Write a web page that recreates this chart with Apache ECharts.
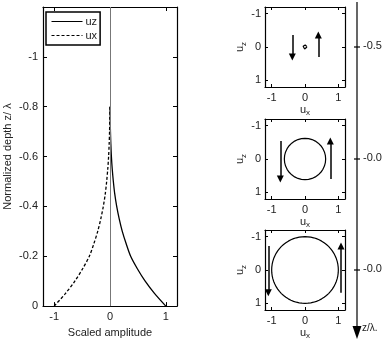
<!DOCTYPE html>
<html>
<head>
<meta charset="utf-8">
<script src="https://cdn.jsdelivr.net/npm/echarts@6/dist/echarts.min.js"></script>
<style>
  html, body { margin: 0; padding: 0; background: #fff; }
  #chart { width: 382px; height: 343px; }
</style>
</head>
<body>
<div id="chart"></div>
<script>
// Normalized depth z/λ and the scaled particle-velocity amplitudes at each depth
const depth = [0, -0.05, -0.1, -0.15, -0.2, -0.25, -0.3, -0.35, -0.4, -0.45, -0.5, -0.55, -0.6, -0.65, -0.7, -0.75, -0.8];
const uzAmp = [1.0, 0.80, 0.63, 0.49, 0.37, 0.29, 0.22, 0.165, 0.12, 0.085, 0.06, 0.04, 0.025, 0.015, 0.008, 0.004, 0.0];
const uxAmp = [-1.0, -0.80, -0.63, -0.49, -0.37, -0.29, -0.22, -0.165, -0.12, -0.085, -0.06, -0.04, -0.025, -0.015, -0.008, -0.004, 0.0];

// Tick values
const ampTicks = [-1, 0, 1];
const depthTicks = [-1, -0.8, -0.6, -0.4, -0.2, 0];

// Particle orbits at three depths (top to bottom panel)
const orbitRadius = [0.06, 0.62, 1.0];
const arrowDownX = [-0.38, -0.74, -1.1];
const arrowUpX = [0.4, 0.76, 1.08];
const arrowTop = [-0.36, -0.54, -0.72];
const arrowBottom = [0.3, 0.6, 0.68];
const depthLabels = ['-0.5', '-0.0', '-0.0'];

const FONT = 'Liberation Sans, Arial, sans-serif';
const TXT = '#222';

// layout of the orbit panels
const panelLeft = 265, panelSize = 80;
const panelTops = [7, 119, 230];

const chart = echarts.init(document.getElementById('chart'), null, { renderer: 'canvas' });

const grids = [{ left: 43, top: 7, width: 134, height: 303 }];
panelTops.forEach(t => grids.push({ left: panelLeft, top: t, width: panelSize, height: panelSize }));

const axisLine = { onZero: false, lineStyle: { color: '#000', width: 1.2 } };
const subRich = {
  u: { fontSize: 11, fontFamily: FONT, color: TXT },
  s: { fontSize: 8, fontFamily: FONT, color: TXT, padding: [7, 0, 0, 0] }
};

const xAxes = [], yAxes = [];

// main profile panel
xAxes.push({
  gridIndex: 0, type: 'value', min: -1.2, max: 1.2, position: 'bottom',
  axisLine, splitLine: { show: false },
  axisTick: { inside: true, length: 4, customValues: ampTicks, lineStyle: { color: '#000' } },
  axisLabel: { customValues: ampTicks, margin: 5, color: TXT, fontSize: 11, fontFamily: FONT },
  name: 'Scaled amplitude', nameLocation: 'middle', nameGap: 17,
  nameTextStyle: { color: TXT, fontSize: 11, fontFamily: FONT }
});
xAxes.push({
  gridIndex: 0, type: 'value', min: -1.2, max: 1.2, position: 'top',
  axisLine, splitLine: { show: false },
  axisTick: { inside: true, length: 4, customValues: ampTicks, lineStyle: { color: '#000' } },
  axisLabel: { show: false }
});
yAxes.push({
  gridIndex: 0, type: 'value', min: -1.2, max: 0, inverse: true, position: 'left',
  axisLine, splitLine: { show: false },
  axisTick: { inside: true, length: 4, customValues: depthTicks, lineStyle: { color: '#000' } },
  axisLabel: { customValues: depthTicks, margin: 5, color: TXT, fontSize: 11, fontFamily: FONT },
  name: 'Normalized depth z/ λ', nameLocation: 'middle', nameGap: 30,
  nameTextStyle: { color: TXT, fontSize: 11, fontFamily: FONT }
});
yAxes.push({
  gridIndex: 0, type: 'value', min: -1.2, max: 0, inverse: true, position: 'right',
  axisLine, splitLine: { show: false },
  axisTick: { inside: true, length: 4, customValues: depthTicks, lineStyle: { color: '#000' } },
  axisLabel: { show: false }
});

// orbit panels
panelTops.forEach((t, i) => {
  const g = i + 1;
  xAxes.push({
    gridIndex: g, type: 'value', min: -1.2, max: 1.2, position: 'bottom',
    axisLine, splitLine: { show: false },
    axisTick: { inside: true, length: 3, customValues: ampTicks, lineStyle: { color: '#000' } },
    axisLabel: { customValues: ampTicks, margin: 5, color: TXT, fontSize: 11, fontFamily: FONT },
    name: '{u|u}{s|x}', nameLocation: 'middle', nameGap: 15,
    nameTextStyle: { rich: subRich }
  });
  xAxes.push({
    gridIndex: g, type: 'value', min: -1.2, max: 1.2, position: 'top',
    axisLine, splitLine: { show: false },
    axisTick: { inside: true, length: 3, customValues: ampTicks, lineStyle: { color: '#000' } },
    axisLabel: { show: false }
  });
  yAxes.push({
    gridIndex: g, type: 'value', min: -1.2, max: 1.2, inverse: true, position: 'left',
    axisLine, splitLine: { show: false },
    axisTick: { inside: true, length: 3, customValues: ampTicks, lineStyle: { color: '#000' } },
    axisLabel: { customValues: ampTicks, margin: 4, color: TXT, fontSize: 11, fontFamily: FONT },
    name: '{u|u}{s|z}', nameLocation: 'middle', nameGap: 16,
    nameTextStyle: { rich: subRich }
  });
  yAxes.push({
    gridIndex: g, type: 'value', min: -1.2, max: 1.2, inverse: true, position: 'right',
    axisLine, splitLine: { show: false },
    axisTick: { inside: true, length: 3, customValues: ampTicks, lineStyle: { color: '#000' } },
    axisLabel: { show: false }
  });
});

const series = [
  {
    name: 'uz', type: 'line', xAxisIndex: 0, yAxisIndex: 0, smooth: 0.3, symbol: 'none',
    data: depth.map((z, k) => [uzAmp[k], z]),
    lineStyle: { color: '#000', width: 1.3, type: 'solid' }, itemStyle: { color: '#000' },
    z: 3,
    markLine: {
      silent: true, symbol: 'none', label: { show: false },
      lineStyle: { color: '#777', width: 1, type: 'solid' },
      data: [{ xAxis: 0 }]
    }
  },
  {
    name: 'ux', type: 'line', xAxisIndex: 0, yAxisIndex: 0, smooth: 0.3, symbol: 'none',
    data: depth.map((z, k) => [uxAmp[k], z]),
    lineStyle: { color: '#000', width: 1.3, type: [3, 2] }, itemStyle: { color: '#000' },
    z: 3
  }
];

// orbit circles and direction arrows
orbitRadius.forEach((r, i) => {
  const xi = 2 + 2 * i, yi = 2 + 2 * i;
  const ring = [];
  for (let a = 0; a <= 72; a++) {
    const th = a / 72 * Math.PI * 2;
    ring.push([r * Math.cos(th), r * Math.sin(th)]);
  }
  series.push({
    type: 'line', xAxisIndex: xi, yAxisIndex: yi, symbol: 'none', silent: true,
    data: ring, lineStyle: { color: '#000', width: 1.2 }
  });
  series.push({
    type: 'lines', coordinateSystem: 'cartesian2d', xAxisIndex: xi, yAxisIndex: yi,
    symbol: ['none', 'triangle'], symbolSize: 7, silent: true,
    lineStyle: { color: '#000', width: 1.5, curveness: 0, opacity: 1 },
    data: [
      { coords: [[arrowDownX[i], arrowTop[i]], [arrowDownX[i], arrowBottom[i]]] },
      { coords: [[arrowUpX[i], arrowBottom[i]], [arrowUpX[i], arrowTop[i]]] }
    ]
  });
});

// depth arrow on the far right
const axX = 357;
const graphic = [
  { type: 'line', shape: { x1: axX, y1: 2, x2: axX, y2: 330 }, style: { stroke: '#000', lineWidth: 1.2 } },
  { type: 'polygon', shape: { points: [[axX - 4.5, 326], [axX + 4.5, 326], [axX, 339]] }, style: { fill: '#000' } },
  { type: 'text', x: 362, y: 328, style: { text: 'z/λ.', font: '10px ' + FONT, fill: TXT, verticalAlign: 'middle' } }
];
panelTops.forEach((t, i) => {
  const cy = t + panelSize / 2;
  graphic.push({ type: 'line', shape: { x1: axX - 3, y1: cy, x2: axX + 3, y2: cy }, style: { stroke: '#000', lineWidth: 1.2 } });
  graphic.push({ type: 'text', x: 363, y: cy - 1, style: { text: depthLabels[i], font: '11px ' + FONT, fill: TXT, verticalAlign: 'middle' } });
});

chart.setOption({
  animation: false,
  backgroundColor: '#fff',
  grid: grids,
  xAxis: xAxes,
  yAxis: yAxes,
  legend: {
    data: ['uz', 'ux'], orient: 'vertical', left: 46, top: 12,
    itemWidth: 31, itemHeight: 8, itemGap: 3,
    padding: [4, 3, 4, 5],
    borderColor: '#000', borderWidth: 1.5, backgroundColor: '#fff',
    itemStyle: { opacity: 0 },
    lineStyle: { width: 1 },
    textStyle: { color: TXT, fontSize: 11, fontFamily: FONT, padding: [0, 0, 0, -2] },
    selectedMode: false
  },
  series,
  graphic
});
</script>
</body>
</html>
